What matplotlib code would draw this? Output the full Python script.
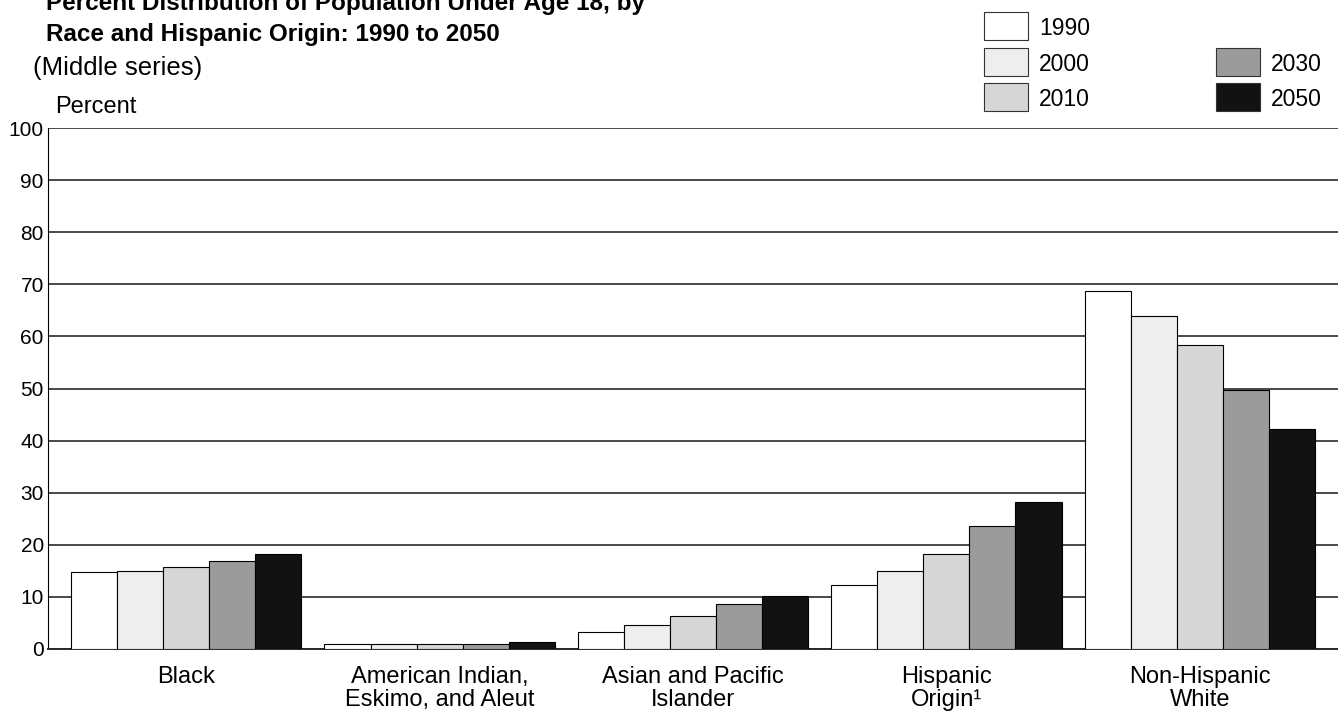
#!/usr/bin/env python3
# -*- coding: utf-8 -*-

"""
plot.py
Percent distribution of population under age 18 by race and Hispanic origin
"""

import numpy as np
import matplotlib
matplotlib.use('Agg')
import matplotlib.pyplot as plt
from matplotlib.patches import Rectangle

plt.rcParams['font.family'] = ['Liberation Sans', 'DejaVu Sans']

categories = ['Black', 'American Indian,\nEskimo, and Aleut', 'Asian and Pacific\nIslander',
              'Hispanic\nOrigin\u00b9', 'Non-Hispanic\nWhite']
years = ['1990', '2000', '2010', '2030', '2050']
pct_1990 = [14.8, 1.0, 3.3, 12.3, 68.8]
pct_2000 = [15.0, 1.0, 4.7, 15.0, 64.0]
pct_2010 = [15.8, 1.0, 6.4, 18.3, 58.3]
pct_2030 = [16.8, 1.0, 8.6, 23.6, 49.8]
pct_2050 = [18.2, 1.3, 10.2, 28.2, 42.2]
yticks = list(range(0, 101, 10))

series = [pct_1990, pct_2000, pct_2010, pct_2030, pct_2050]
colors = ['#ffffff', '#eeeeee', '#d6d6d6', '#9b9b9b', '#121212']

W, H = 1338, 715
fig = plt.figure(figsize=(W / 100, H / 100), dpi=100)
ax = fig.add_axes([48 / W, 1 - 649 / H, 1 - 48 / W, (649 - 128) / H])


def fx(px):
    return px / W


def fy(py):
    return 1 - py / H


group_x = np.arange(len(categories)) * 5.5
for i, vals in enumerate(series):
    ax.bar(group_x + (i - 2), vals, width=1.0, color=colors[i],
           edgecolor='black', linewidth=0.8, zorder=3)

ax.set_xlim(group_x[0] - 3, group_x[-1] + 3)
ax.set_ylim(0, 100)
ax.set_yticks(yticks)
ax.set_xticks(group_x)
ax.set_xticklabels(categories, fontsize=17, linespacing=1.1)
ax.tick_params(axis='x', length=0, pad=12)
ax.tick_params(axis='y', length=0, pad=3, labelsize=15)
ax.yaxis.grid(True, color='#2a2a2a', linewidth=1.2, zorder=0)
for side in ['top', 'right']:
    ax.spines[side].set_visible(False)
ax.spines['left'].set_linewidth(0.8)
ax.spines['bottom'].set_linewidth(1.4)
ax.spines['bottom'].set_color('#2a2a2a')

# titles (first line is cropped at the top edge, as in the source)
fig.text(fx(46), fy(10), 'Percent Distribution of Population Under Age 18, by',
         fontsize=17.5, fontweight='bold', va='baseline', ha='left')
fig.text(fx(46), fy(41), 'Race and Hispanic Origin: 1990 to 2050',
         fontsize=17.5, fontweight='bold', va='baseline', ha='left')
fig.text(fx(33), fy(75), '(Middle series)', fontsize=18.5, va='baseline', ha='left')
fig.text(fx(55), fy(113), 'Percent', fontsize=17, va='baseline', ha='left')

# legend: three boxes on the left, two on the right aligned with the lower rows
box_x = [984, 984, 984, 1216, 1216]
box_top = [12, 48, 83, 48, 83]
for i, year in enumerate(years):
    fig.patches.append(Rectangle((fx(box_x[i]), fy(box_top[i] + 28)), 44 / W, 28 / H,
                                 transform=fig.transFigure, facecolor=colors[i],
                                 edgecolor='#333333', linewidth=0.8))
    fig.text(fx(box_x[i] + 55), fy(box_top[i] + 23), year, fontsize=16.5,
             va='baseline', ha='left')

fig.savefig('out.png', dpi=100)
